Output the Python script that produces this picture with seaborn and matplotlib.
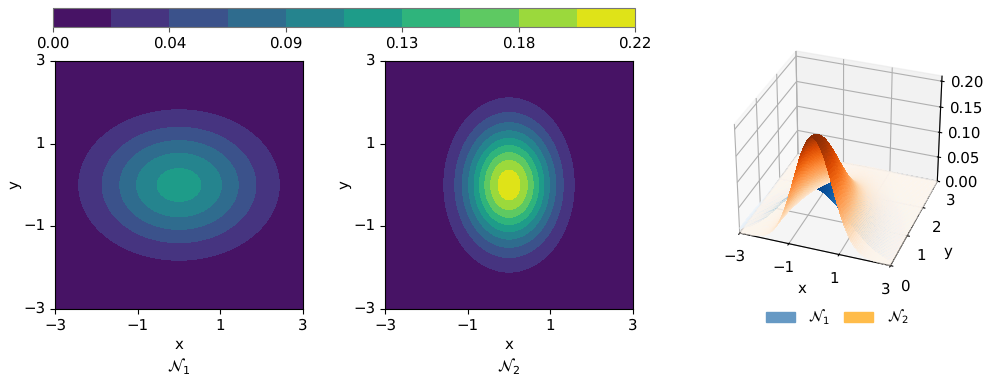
import numpy as np
import pandas as pd
import matplotlib
matplotlib.use('Agg')
import matplotlib.pyplot as plt
import seaborn as sns
from matplotlib.colors import ListedColormap
from matplotlib.patches import Patch
from mpl_toolkits.mplot3d import Axes3D

# --- values ---
sigma_x = [1.33, 0.75]   # spread along x, from the ring widths
sigma_y = [1.00, 1.00]   # spread along y, from the ring heights
names = [r'$\mathcal{N}_1$', r'$\mathcal{N}_2$']
xy_ticks = [-3, -1, 1, 3]
cbar_ticks = [0.0, 0.044, 0.088, 0.132, 0.176, 0.22]
cbar_labels = ['0.00', '0.04', '0.09', '0.13', '0.18', '0.22']
x3_ticks = [-3, -1, 1, 3]
y3_ticks = [0, 1, 2, 3]
z3_ticks = [0.0, 0.05, 0.10, 0.15, 0.20]
z_max = 0.22
n_bands = 10
legend_colors = ['#6699c4', '#ffbc4a']

sns.set_style('ticks', rc={'text.color': 'black', 'axes.labelcolor': 'black',
                           'xtick.color': 'black', 'ytick.color': 'black',
                           'axes.edgecolor': 'black', 'grid.color': '#b0b0b0'})
plt.rcParams['font.family'] = ['DejaVu Sans']
plt.rcParams['text.hinting'] = 'no_hinting'
plt.rcParams['text.hinting_factor'] = 1


def density(x, y, sx, sy):
    return np.exp(-0.5 * ((x / sx) ** 2 + (y / sy) ** 2)) / (2 * np.pi * sx * sy)


def faded_colors(z, cmap_name, vmax):
    # low parts of the surface let the panes show through
    rgba = plt.get_cmap(cmap_name)(z / vmax)
    rgba[..., 3] = np.clip(0.3 + 0.7 * z / vmax * 2.5, 0, 1)
    return rgba


band_mid = (np.arange(n_bands) + 0.5) / n_bands
band_cmap = ListedColormap(plt.get_cmap('viridis')(band_mid))

fig = plt.figure(figsize=(9.87, 3.83), dpi=100)
W, H = 987, 383


def px_axes(x0, y0, x1, y1, **kw):
    return fig.add_axes([x0 / W, 1 - y1 / H, (x1 - x0) / W, (y1 - y0) / H], **kw)


cbar_ax = px_axes(53, 8, 635, 27)
panels = [px_axes(55, 61, 303, 309), px_axes(385, 61, 633, 309)]

n = 248
grid = np.linspace(-3, 3, n)
xx, yy = np.meshgrid(grid, grid)

for i, ax in enumerate(panels):
    df = pd.DataFrame(density(xx, yy, sigma_x[i], sigma_y[i]), index=grid, columns=grid)
    sns.heatmap(df, ax=ax, cmap=band_cmap, vmin=0, vmax=z_max, cbar=i == 0,
                cbar_ax=cbar_ax if i == 0 else None,
                cbar_kws={'orientation': 'horizontal', 'ticks': cbar_ticks},
                rasterized=True)
    ax.invert_yaxis()
    pos = [(v + 3) / 6 * n for v in xy_ticks]
    ax.set_xticks(pos)
    ax.set_yticks(pos)
    labels = [str(v).replace('-', '\u2212') for v in xy_ticks]
    ax.set_xticklabels(labels, rotation=0, fontsize=10.5)
    ax.set_yticklabels(labels, rotation=0, fontsize=10.5)
    ax.tick_params(length=3.5, width=0.8, left=True, bottom=True, pad=3.5)
    ax.set_xlabel('x', fontsize=11, labelpad=3)
    ax.set_ylabel('y', fontsize=11, labelpad=1)
    for s in ax.spines.values():
        s.set_visible(True)
        s.set_linewidth(0.8)
        s.set_color('black')
    ax.text(0.5, -0.23, names[i], transform=ax.transAxes, ha='center', va='center', fontsize=11.5)

cb = panels[0].collections[0].colorbar
cb.set_ticklabels(cbar_labels)
cb.ax.tick_params(length=3.5, width=0.8, labelsize=10.5, bottom=True, color='#555555')
cb.outline.set_visible(True)
cb.outline.set_edgecolor('#777777')
cb.outline.set_linewidth(0.8)

# --- 3D view ---
ax3 = px_axes(711, 33, 965, 282, projection='3d')
x3 = np.linspace(-3, 3, 140)
y3 = np.linspace(0, 3, 70)
xs, ys = np.meshgrid(x3, y3)
z1 = density(xs, ys, sigma_x[0], sigma_y[0])
z2 = density(xs, ys, sigma_x[1], sigma_y[1])
ax3.plot_surface(xs, ys, z1, facecolors=faded_colors(z1, 'Blues', 0.13),
                 linewidth=0, antialiased=False, rstride=1, cstride=1, shade=False)
ax3.plot_surface(xs, ys, z2, facecolors=faded_colors(z2, 'Oranges', 0.22),
                 linewidth=0, antialiased=False, rstride=1, cstride=1, shade=False)
ax3.set_xlim(-3, 3)
ax3.set_ylim(0, 3)
ax3.set_zlim(0, 0.21)
ax3.set_box_aspect((4, 4, 3.2))
ax3.set_xticks(x3_ticks)
ax3.set_xticklabels([str(v).replace('-', '\u2212') for v in x3_ticks])
ax3.set_yticks(y3_ticks)
ax3.set_zticks(z3_ticks)
ax3.set_zticklabels(['%.2f' % v for v in z3_ticks])
ax3.set_xlabel('x', fontsize=11, labelpad=-2)
ax3.set_ylabel('y', fontsize=11, labelpad=0)
ax3.view_init(elev=32, azim=-70)
ax3.tick_params(axis='x', labelsize=10.5, pad=0)
ax3.tick_params(axis='y', labelsize=10.5, pad=1)
ax3.tick_params(axis='z', labelsize=10.5, pad=4)

handles = [Patch(facecolor=c, edgecolor=c, label=nm) for c, nm in zip(legend_colors, names)]
fig.legend(handles=handles, loc='center', bbox_to_anchor=(837 / W, 1 - 317 / H), ncol=2,
           frameon=False, fontsize=10.5, columnspacing=1.0, handlelength=2.0, handletextpad=0.9)

fig.savefig('out.png', dpi=100)
